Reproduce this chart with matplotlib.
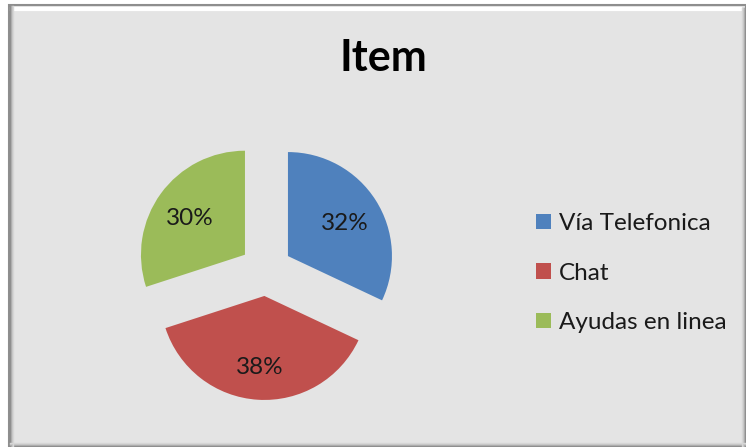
import matplotlib.pyplot as plt
from matplotlib.patches import Rectangle

plt.rcParams['font.family'] = ['Lato', 'DejaVu Sans']

# datos del grafico
labels = ['Vía Telefonica', 'Chat', 'Ayudas en linea']
values = [32, 38, 30]
colors = ['#4F81BD', '#C0504D', '#9BBB59']
title = 'Item'

W, H = 746, 447
fig = plt.figure(figsize=(W / 100, H / 100), dpi=100, facecolor='white')
ax = fig.add_axes([0, 0, 1, 1])

# marco con bisel
ax.add_patch(Rectangle((9, 0), W - 9, H - 5, facecolor='#E4E4E4',
                       edgecolor='#8E8E8E', lw=1.5, zorder=0))
ax.plot([12, W - 6], [H - 8.5, H - 8.5], color='white', lw=3, zorder=1)
for i, c in enumerate(['#8A8A8A', '#A8A8A8', '#C4C4C4', '#D6D6D6']):
    ax.plot([W - 1 - i, W - 1 - i], [1, H - 8], color=c, lw=1, zorder=1)
    ax.plot([10, W - 1], [1 + i, 1 + i], color=c, lw=1, zorder=1)
    ax.plot([10 + i, 10 + i], [1, H - 6], color=c, lw=1, zorder=1)

# explode va en unidades de datos (pixeles aqui)
wedges, texts, autotexts = ax.pie(
    values, colors=colors, startangle=90, counterclock=False,
    explode=[26] * 3, radius=104, center=(266, 177),
    autopct='%1.0f%%', pctdistance=0.65,
    textprops=dict(fontsize=17.5, color='#1A1A1A'),
    wedgeprops=dict(linewidth=0))
# bajar un poco los porcentajes
for t in autotexts:
    x, y = t.get_position()
    t.set_position((x, y - 4))

ax.set_xlim(0, W)
ax.set_ylim(0, H)
ax.set_aspect('equal')
ax.axis('off')

ax.text(383, H - 58, title, fontsize=31, fontweight='bold',
        ha='center', va='center', color='black')

ax.legend(wedges, labels, loc='center left', bbox_to_anchor=(536, H - 273),
          bbox_transform=ax.transData, frameon=False, fontsize=17.5,
          handlelength=0.6, handleheight=0.6, handletextpad=0.35,
          labelspacing=1.18, borderpad=0, borderaxespad=0,
          labelcolor='#1A1A1A')

fig.savefig('out.png', dpi=100, facecolor='white')
